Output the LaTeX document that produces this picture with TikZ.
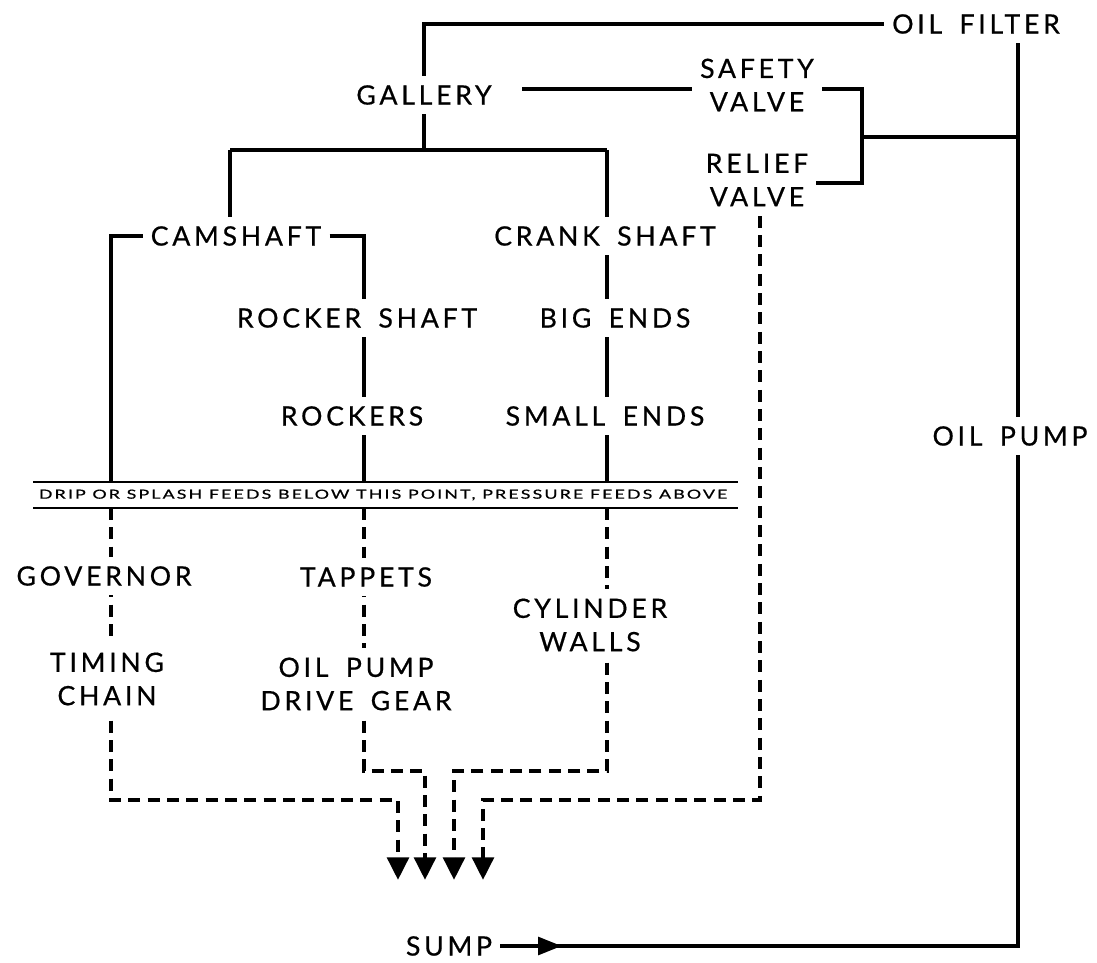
\documentclass[tikz,border=0pt]{standalone}
\usepackage{fontspec}
\usepackage{graphicx}
\newfontfamily\gill[LetterSpace=14,FakeBold=0.6]{Lato}
\newfontfamily\gillsmall[LetterSpace=12,FakeBold=0.6]{Lato}
\newcommand\ws{\hspace{13pt}}
\usetikzlibrary{arrows.meta}
\pgfdeclarelayer{background}
\pgfsetlayers{background,main}
\begin{document}
\begin{tikzpicture}[x=0.75pt,y=-0.75pt,
  lbl/.style={fill=white, inner xsep=6pt, inner ysep=7pt, align=center, font=\gill\fontsize{20}{25}\selectfont},
  oil/.style={line width=3.6pt},
  drip/.style={line width=3.5pt, dash pattern=on 9pt off 5.5pt},
  rulel/.style={line width=1.3pt},
  tipd/.style={-{Triangle[length=17pt,width=16pt]}}
]
\useasboundingbox (0,0) rectangle (1097,963);

% labels
\node[lbl] (filter) at (976,24) {OIL\ws FILTER};
\node[lbl] (gallery) at (424,95) {GALLERY};
\node[lbl] (safety) at (757,85) {SAFETY\\VALVE};
\node[lbl] (relief) at (757,180) {RELIEF\\VALVE};
\node[lbl] (camshaft) at (236,236) {CAMSHAFT};
\node[lbl] (crank) at (605,236) {CRANK\ws SHAFT};
\node[lbl] (rockershaft) at (357,318) {ROCKER\ws SHAFT};
\node[lbl] (bigends) at (615,318) {BIG\ws ENDS};
\node[lbl] (rockers) at (352,416) {ROCKERS};
\node[lbl] (smallends) at (605,416) {SMALL\ws ENDS};
\node[lbl] (pump) at (1010,436) {OIL\ws PUMP};
\node[inner sep=0pt] (divtext) at (383,495) {\resizebox{516pt}{6.8pt}{\gillsmall\fontsize{10}{12}\selectfont DRIP OR SPLASH FEEDS BELOW THIS POINT, PRESSURE FEEDS ABOVE}};
\node[lbl] (governor) at (104,576) {GOVERNOR};
\node[lbl] (tappets) at (366,577) {TAPPETS};
\node[lbl] (cylinder) at (590,625) {CYLINDER\\WALLS};
\node[lbl] (timing) at (107,679) {TIMING\\CHAIN};
\node[lbl] (drivegear) at (356,684) {OIL\ws PUMP\\DRIVE\ws GEAR};
\node[lbl] (sump) at (449,946) {SUMP};

\coordinate (gj) at (424,150);
\coordinate (gl) at (230,150);
\coordinate (gr) at (607,150);
\coordinate (sv) at (522,89);
\coordinate (vb) at (862,137);
\coordinate (pj) at (1018,137);
\coordinate (corner) at (1018,946);

\begin{pgfonlayer}{background}
\fill[white] (0,0) rectangle (1097,963);
% pressure feeds
\draw[oil] (gallery) |- (filter.west);
\draw[oil] (gallery) -- (gj);
\draw[oil] (gl) -- (gr);
\draw[oil] (gl) -- (camshaft -| gl);
\draw[oil] (camshaft.west) -| (111,482);
\draw[oil] (camshaft.east) -| (364,482);
\draw[oil] (gr) -- (607,482);
\draw[oil] (sv) -- (862,89) -- (862,183) -- (relief.east |- 0,183);
\draw[oil] (vb) -- (pj);
\draw[oil] (sump.east) -- (corner) -- (filter.south -| corner);
\draw[oil, -{Triangle[length=18pt,width=13pt]}] (sump.east) -- (562,946);
% divider
\draw[rulel] (33,482) -- (738,482);
\draw[rulel] (33,508) -- (738,508);
% drip feeds
\draw[drip, tipd] (111,508) -- (111,800) -- (398,800) -- (398,880);
\draw[drip, tipd] (364,508) -- (364,771) -- (425,771) -- (425,880);
\draw[drip, tipd] (607,508) -- (607,771) -- (454,771) -- (454,880);
\draw[drip, tipd] (relief.south -| 760,0) -- (760,800) -- (483,800) -- (483,880);
\end{pgfonlayer}
\end{tikzpicture}
\end{document}
